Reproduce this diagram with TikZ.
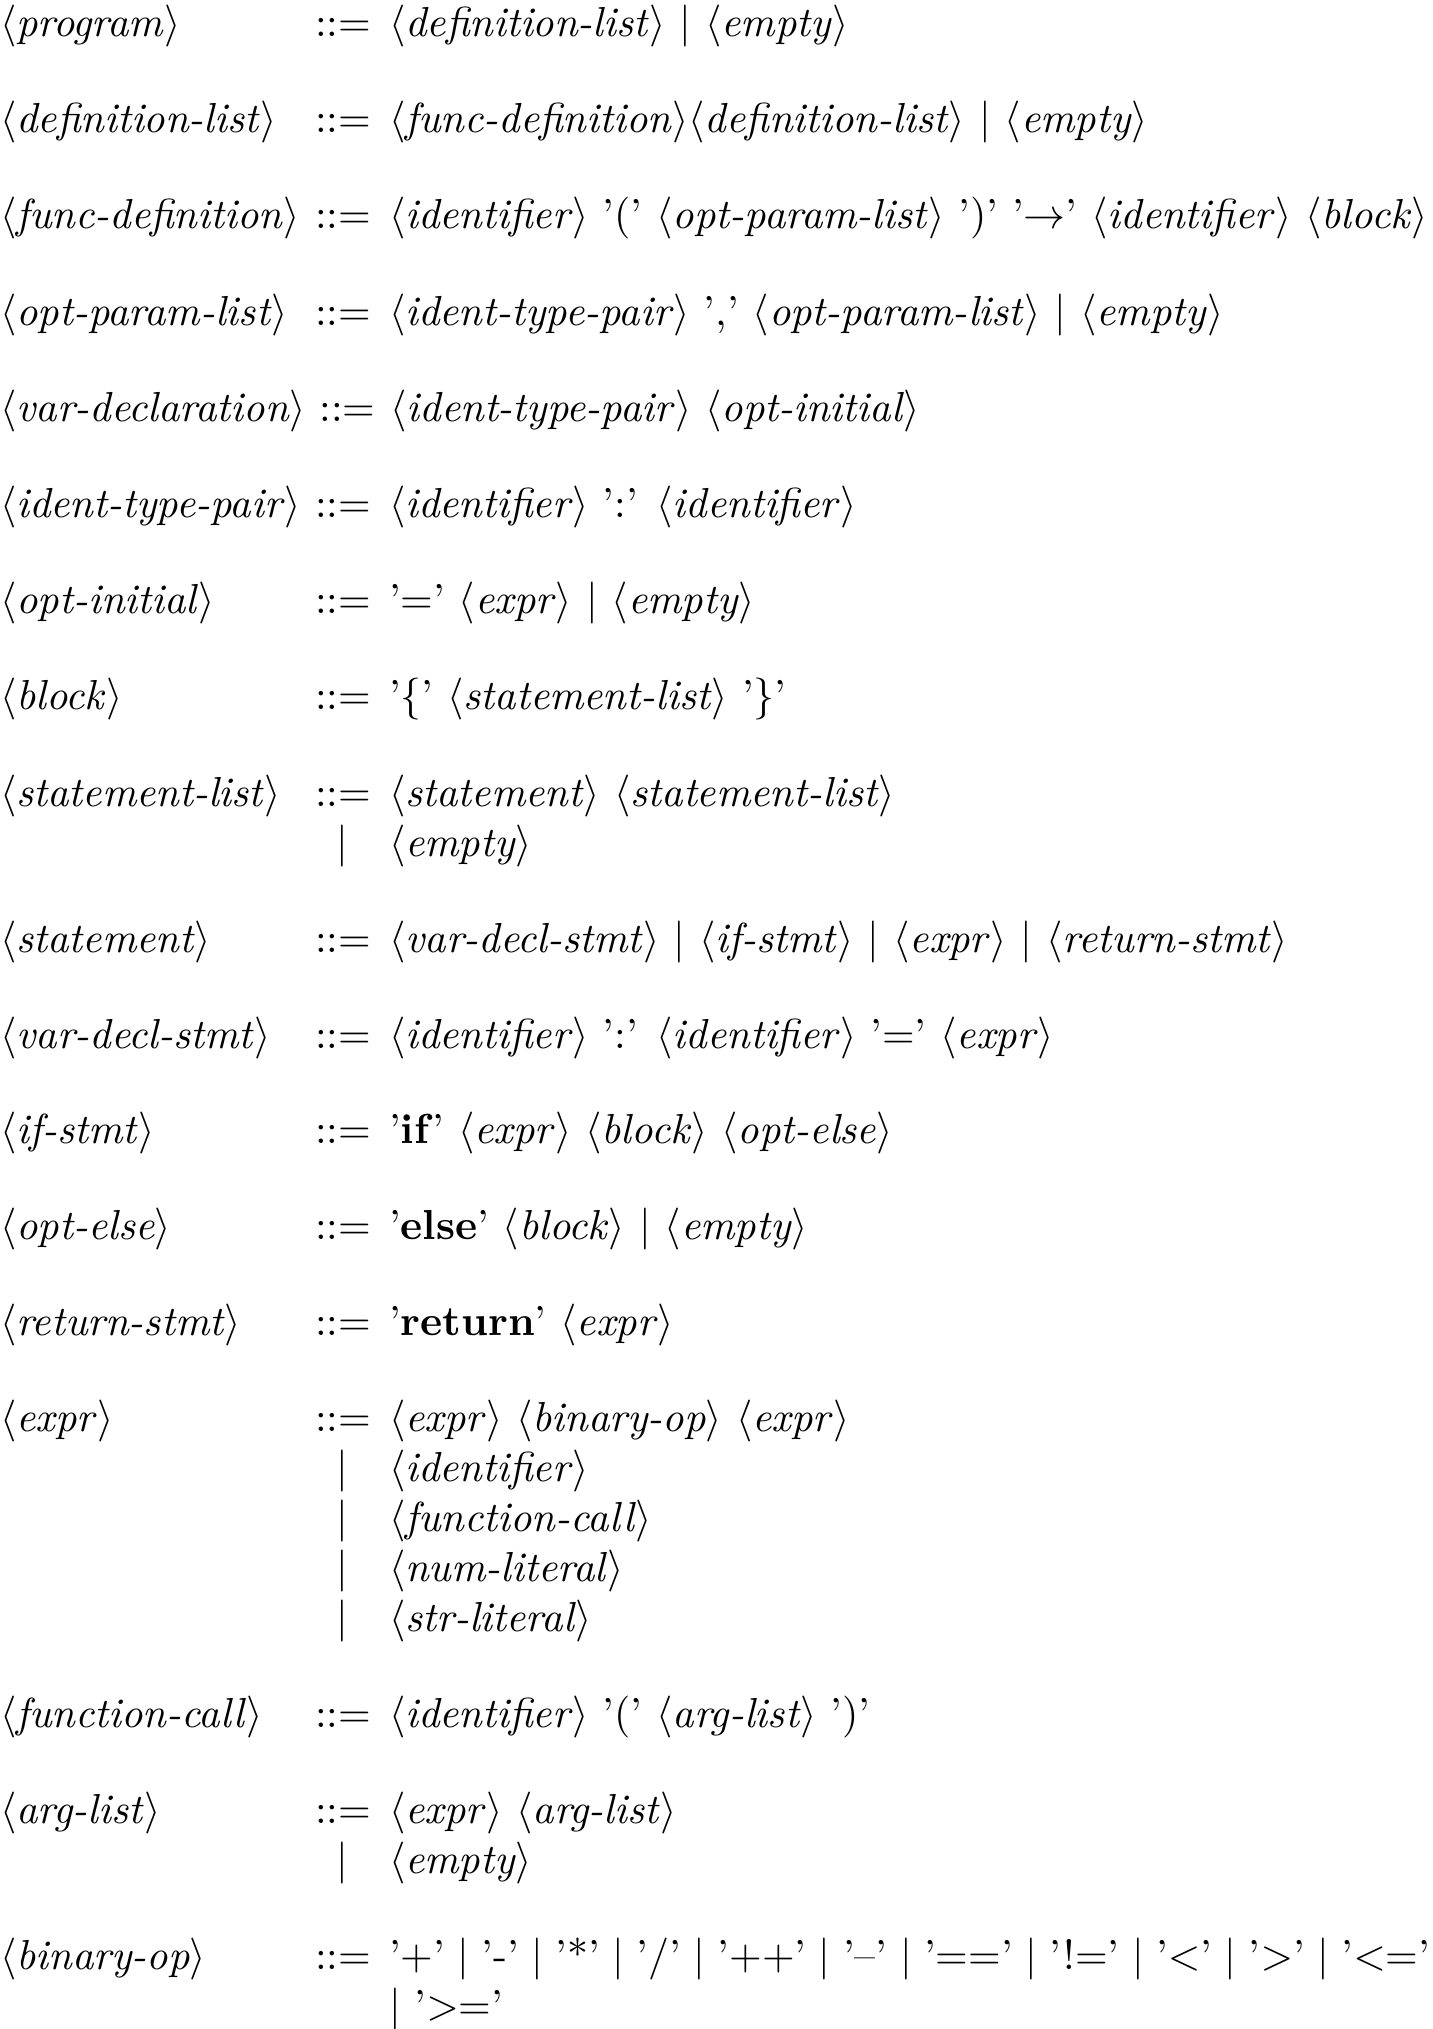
\documentclass[tikz,border=0pt]{standalone}
\newcommand{\nt}[1]{$\langle$\textit{#1}$\rangle$}
\newcommand{\bor}{$|$}
\begin{document}
\begin{tikzpicture}[x=0.23838pt,y=-0.23838pt,
  bnf/.style={inner sep=0pt,outer sep=0pt},
  lhs/.style={bnf,anchor=base west},
  assign/.style={bnf,anchor=base west},
  rhs/.style={bnf,anchor=base west},
  altbar/.style={bnf,anchor=base}]
\useasboundingbox (0,0) rectangle (1433,2029);
% rule 1
\node[lhs] (l1) at (0,37) {\nt{program}};
\node[assign] (a1) at (315,37) {::=};
\node[rhs] (r1) at (389,37) {\nt{definition-list} \bor{} \nt{empty}};
% rule 2
\node[lhs] (l2) at (0,133) {\nt{definition-list}};
\node[assign] (a2) at (315,133) {::=};
\node[rhs] (r2) at (389,133) {\nt{func-definition}\nt{definition-list} \bor{} \nt{empty}};
% rule 3
\node[lhs] (l3) at (0,229) {\nt{func-definition}};
\node[assign] (a3) at (315,229) {::=};
\node[rhs] (r3) at (389,229) {\nt{identifier} '(' \nt{opt-param-list} ')' '$\rightarrow$' \nt{identifier} \nt{block}};
% rule 4
\node[lhs] (l4) at (0,325) {\nt{opt-param-list}};
\node[assign] (a4) at (315,325) {::=};
\node[rhs] (r4) at (389,325) {\nt{ident-type-pair} ',' \nt{opt-param-list} \bor{} \nt{empty}};
% rule 5
\node[lhs] (l5) at (0,421) {\nt{var-declaration}};
\node[assign] (a5) at (319.5,421) {::=};
\node[rhs] (r5) at (390.5,421) {\nt{ident-type-pair} \nt{opt-initial}};
% rule 6
\node[lhs] (l6) at (0,517) {\nt{ident-type-pair}};
\node[assign] (a6) at (315,517) {::=};
\node[rhs] (r6) at (389,517) {\nt{identifier} ':' \nt{identifier}};
% rule 7
\node[lhs] (l7) at (0,613) {\nt{opt-initial}};
\node[assign] (a7) at (315,613) {::=};
\node[rhs] (r7) at (389,613) {'=' \nt{expr} \bor{} \nt{empty}};
% rule 8
\node[lhs] (l8) at (0,709) {\nt{block}};
\node[assign] (a8) at (315,709) {::=};
\node[rhs] (r8) at (389,709) {'$\{$' \nt{statement-list} '$\}$'};
% rule 9
\node[lhs] (l9) at (0,806) {\nt{statement-list}};
\node[assign] (a9) at (315,806) {::=};
\node[rhs] (r9) at (389,806) {\nt{statement} \nt{statement-list}};
\node[altbar] (b9) at (342,856) {$|$};
\node[rhs] (r9b) at (389,856) {\nt{empty}};
% rule 10
\node[lhs] (l10) at (0,952) {\nt{statement}};
\node[assign] (a10) at (315,952) {::=};
\node[rhs] (r10) at (389,952) {\nt{var-decl-stmt} \bor{} \nt{if-stmt} \bor{} \nt{expr} \bor{} \nt{return-stmt}};
% rule 11
\node[lhs] (l11) at (0,1048) {\nt{var-decl-stmt}};
\node[assign] (a11) at (315,1048) {::=};
\node[rhs] (r11) at (389,1048) {\nt{identifier} ':' \nt{identifier} '=' \nt{expr}};
% rule 12
\node[lhs] (l12) at (0,1143) {\nt{if-stmt}};
\node[assign] (a12) at (315,1143) {::=};
\node[rhs] (r12) at (389,1143) {'\textbf{if}' \nt{expr} \nt{block} \nt{opt-else}};
% rule 13
\node[lhs] (l13) at (0,1239) {\nt{opt-else}};
\node[assign] (a13) at (315,1239) {::=};
\node[rhs] (r13) at (389,1239) {'\textbf{else}' \nt{block} \bor{} \nt{empty}};
% rule 14
\node[lhs] (l14) at (0,1335) {\nt{return-stmt}};
\node[assign] (a14) at (315,1335) {::=};
\node[rhs] (r14) at (389,1335) {'\textbf{return}' \nt{expr}};
% rule 15
\node[lhs] (l15) at (0,1431) {\nt{expr}};
\node[assign] (a15) at (315,1431) {::=};
\node[rhs] (r15) at (389,1431) {\nt{expr} \nt{binary-op} \nt{expr}};
\node[altbar] (b15a) at (342,1481) {$|$};
\node[rhs] (r15a) at (389,1481) {\nt{identifier}};
\node[altbar] (b15b) at (342,1531) {$|$};
\node[rhs] (r15b) at (389,1531) {\nt{function-call}};
\node[altbar] (b15c) at (342,1581) {$|$};
\node[rhs] (r15c) at (389,1581) {\nt{num-literal}};
\node[altbar] (b15d) at (342,1631) {$|$};
\node[rhs] (r15d) at (389,1631) {\nt{str-literal}};
% rule 16
\node[lhs] (l16) at (0,1727) {\nt{function-call}};
\node[assign] (a16) at (315,1727) {::=};
\node[rhs] (r16) at (389,1727) {\nt{identifier} '(' \nt{arg-list} ')'};
% rule 17
\node[lhs] (l17) at (0,1823) {\nt{arg-list}};
\node[assign] (a17) at (315,1823) {::=};
\node[rhs] (r17) at (389,1823) {\nt{expr} \nt{arg-list}};
\node[altbar] (b17) at (342,1873) {$|$};
\node[rhs] (r17b) at (389,1873) {\nt{empty}};
% rule 18
\node[lhs] (l18) at (0,1969) {\nt{binary-op}};
\node[assign] (a18) at (315,1969) {::=};
\node[rhs] (r18) at (389,1969) {\hbox to 248.2pt{'+' \bor{} '-' \bor{} '*' \bor{} '/' \bor{} '++' \bor{} '--' \bor{} '==' \bor{} '!=' \bor{} '$<$' \bor{} '$>$' \bor{} '$<$='}};
\node[rhs] (r18b) at (389,2019) {\bor{} '$>$='};
\end{tikzpicture}
\end{document}
